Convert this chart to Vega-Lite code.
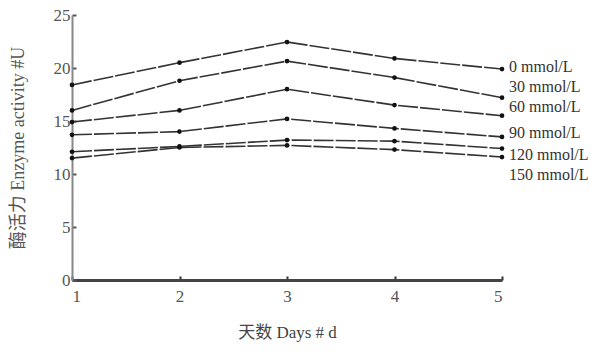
{
  "$schema": "https://vega.github.io/schema/vega-lite/v6.json",
  "width": 430,
  "height": 265,
  "autosize": {"type": "none"},
  "padding": {"left": 72, "top": 15, "right": 92, "bottom": 75},
  "background": "white",
  "config": {
    "view": {"stroke": null},
    "font": "Liberation Serif"
  },
  "data": {
    "values": [
      {"day": 1, "value": 18.4, "conc": "0 mmol/L"},
      {"day": 2, "value": 20.5, "conc": "0 mmol/L"},
      {"day": 3, "value": 22.45, "conc": "0 mmol/L"},
      {"day": 4, "value": 20.9, "conc": "0 mmol/L"},
      {"day": 5, "value": 19.9, "conc": "0 mmol/L"},
      {"day": 1, "value": 16.0, "conc": "30 mmol/L"},
      {"day": 2, "value": 18.8, "conc": "30 mmol/L"},
      {"day": 3, "value": 20.65, "conc": "30 mmol/L"},
      {"day": 4, "value": 19.1, "conc": "30 mmol/L"},
      {"day": 5, "value": 17.2, "conc": "30 mmol/L"},
      {"day": 1, "value": 14.9, "conc": "60 mmol/L"},
      {"day": 2, "value": 16.0, "conc": "60 mmol/L"},
      {"day": 3, "value": 18.0, "conc": "60 mmol/L"},
      {"day": 4, "value": 16.5, "conc": "60 mmol/L"},
      {"day": 5, "value": 15.5, "conc": "60 mmol/L"},
      {"day": 1, "value": 13.7, "conc": "90 mmol/L"},
      {"day": 2, "value": 14.0, "conc": "90 mmol/L"},
      {"day": 3, "value": 15.2, "conc": "90 mmol/L"},
      {"day": 4, "value": 14.3, "conc": "90 mmol/L"},
      {"day": 5, "value": 13.5, "conc": "90 mmol/L"},
      {"day": 1, "value": 12.1, "conc": "120 mmol/L"},
      {"day": 2, "value": 12.6, "conc": "120 mmol/L"},
      {"day": 3, "value": 13.2, "conc": "120 mmol/L"},
      {"day": 4, "value": 13.1, "conc": "120 mmol/L"},
      {"day": 5, "value": 12.4, "conc": "120 mmol/L"},
      {"day": 1, "value": 11.5, "conc": "150 mmol/L"},
      {"day": 2, "value": 12.5, "conc": "150 mmol/L"},
      {"day": 3, "value": 12.7, "conc": "150 mmol/L"},
      {"day": 4, "value": 12.3, "conc": "150 mmol/L"},
      {"day": 5, "value": 11.6, "conc": "150 mmol/L"}
    ]
  },
  "encoding": {
    "x": {
      "field": "day", "type": "quantitative",
      "scale": {"domain": [1, 5], "nice": false, "zero": false},
      "axis": {
        "values": [1, 2, 3, 4, 5], "format": "d", "grid": false,
        "title": "天数 Days # d", "titleFont": "Liberation Serif, Noto Sans CJK SC", "titleFontWeight": "normal",
        "titleFontSize": 17, "titleColor": "#444", "titlePadding": 20,
        "labelFont": "Liberation Serif", "labelFontSize": 17, "labelColor": "#555",
        "labelPadding": 12,
        "domainColor": "#444", "domainWidth": 3,
        "tickColor": "#333", "tickSize": -4, "tickWidth": 2
      }
    },
    "y": {
      "field": "value", "type": "quantitative",
      "scale": {"domain": [0, 25], "nice": false},
      "axis": {
        "values": [0, 5, 10, 15, 20, 25], "grid": false,
        "title": "酶活力 Enzyme activity #U", "titleFont": "Liberation Serif, Noto Sans CJK SC", "titleFontWeight": "normal",
        "titleFontSize": 18, "titleColor": "#555", "titlePadding": 26,
        "labelFont": "Liberation Serif", "labelFontSize": 17, "labelColor": "#555",
        "labelPadding": 6,
        "domainColor": "#888", "domainWidth": 2,
        "tickColor": "#555", "tickSize": -4, "tickWidth": 2
      }
    }
  },
  "layer": [
    {
      "mark": {"type": "line", "color": "#333", "strokeWidth": 1.6, "strokeDash": [20, 2]},
      "encoding": {"detail": {"field": "conc"}}
    },
    {
      "mark": {"type": "point", "filled": true, "color": "#111", "size": 22, "opacity": 1}
    },
    {
      "transform": [{"filter": "datum.day == 5 && datum.conc == '0 mmol/L'"}],
      "mark": {"type": "text", "align": "left", "dx": 7, "dy": -2, "fontSize": 16, "color": "#333", "font": "Liberation Serif"},
      "encoding": {"text": {"field": "conc"}}
    },
    {
      "transform": [{"filter": "datum.day == 5 && datum.conc == '30 mmol/L'"}],
      "mark": {"type": "text", "align": "left", "dx": 7, "dy": -11, "fontSize": 16, "color": "#333", "font": "Liberation Serif"},
      "encoding": {"text": {"field": "conc"}}
    },
    {
      "transform": [{"filter": "datum.day == 5 && datum.conc == '60 mmol/L'"}],
      "mark": {"type": "text", "align": "left", "dx": 7, "dy": -9, "fontSize": 16, "color": "#333", "font": "Liberation Serif"},
      "encoding": {"text": {"field": "conc"}}
    },
    {
      "transform": [{"filter": "datum.day == 5 && datum.conc == '90 mmol/L'"}],
      "mark": {"type": "text", "align": "left", "dx": 7, "dy": -4, "fontSize": 16, "color": "#333", "font": "Liberation Serif"},
      "encoding": {"text": {"field": "conc"}}
    },
    {
      "transform": [{"filter": "datum.day == 5 && datum.conc == '120 mmol/L'"}],
      "mark": {"type": "text", "align": "left", "dx": 7, "dy": 6, "fontSize": 16, "color": "#333", "font": "Liberation Serif"},
      "encoding": {"text": {"field": "conc"}}
    },
    {
      "transform": [{"filter": "datum.day == 5 && datum.conc == '150 mmol/L'"}],
      "mark": {"type": "text", "align": "left", "dx": 7, "dy": 18, "fontSize": 16, "color": "#333", "font": "Liberation Serif"},
      "encoding": {"text": {"field": "conc"}}
    }
  ]
}
